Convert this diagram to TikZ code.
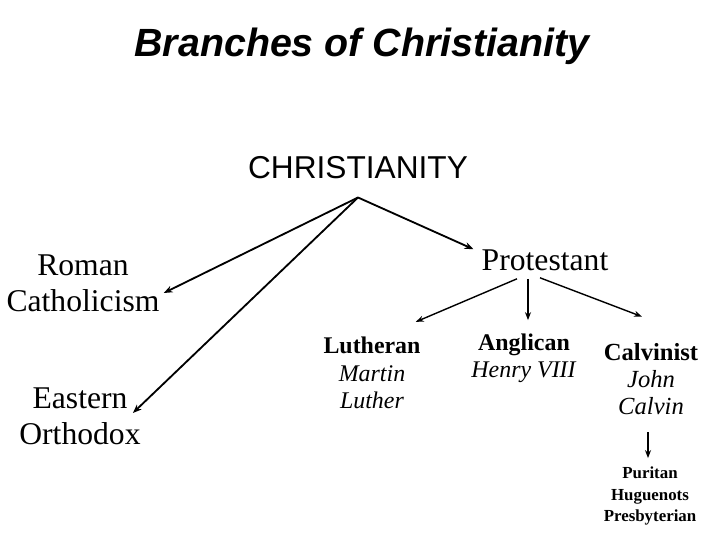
\documentclass[tikz,border=0pt]{standalone}
\usepackage{fontspec}
\setmainfont{Liberation Serif}
\newfontfamily\arialfont{Liberation Sans}
\usetikzlibrary{arrows.meta, calc}

\begin{document}
\begin{tikzpicture}[x=0.025cm, y=-0.025cm,
  branch/.style={-{Stealth[length=2.2mm, width=1.7mm]}, line width=1.3pt},
  twig/.style={-{Stealth[length=2mm, width=1.5mm]}, line width=1pt},
  big/.style={font=\fontsize{22.5}{25.5}\selectfont, align=center, inner sep=0pt},
  church/.style={font=\fontsize{17}{19.5}\selectfont, align=center, inner sep=0pt},
  sect/.style={font=\bfseries\fontsize{12}{15.6}\selectfont, align=center, inner sep=0pt}
]
\useasboundingbox (0,0) rectangle (720,540);

% Title
\node[font=\arialfont\bfseries\itshape\fontsize{28}{32}\selectfont] (title) at (362,46) {Branches of Christianity};

% Root
\node[big, font=\arialfont\fontsize{22.5}{25}\selectfont] (root) at (358,168) {CHRISTIANITY};
\coordinate (apex) at ($(root.south)+(0,18)$);

% First split
\node[big] (rc) at (83,283) {Roman\\Catholicism};
\node[big] (eo) at (80,416) {Eastern\\Orthodox};
\node[big] (pr) at (545,260) {Protestant};

\draw[branch] (apex) -- ($(rc.east)+(4,10)$);
\draw[branch] (apex) -- ($(eo.east)+(-8,-3)$);
\draw[branch] (apex) -- ($(pr.north west)+(-8,0)$);

% Protestant churches
\node[church] (lu) at (372,373) {\textbf{Lutheran}\\\textit{Martin}\\\textit{Luther}};
\node[church] (an) at (524,358) {\textbf{Anglican}\\\textit{Henry VIII}};
\node[church, font=\fontsize{17.5}{19.5}\selectfont] (ca) at (651,379) {\textbf{Calvinist}\\\textit{John}\\\textit{Calvin}};

\draw[twig] ($(pr.south)+(-28,8)$) -- ($(lu.north east)+(-5,-15)$);
\draw[twig] ($(pr.south)+(-17,8)$) -- ($(an.north)+(4,-13)$);
\draw[twig] ($(pr.south)+(-5,7)$) -- ($(ca.north)+(-9,-26)$);

% Calvinist offshoots
\node[sect] (se) at (650,496) {Puritan\\Huguenots\\Presbyterian};
\draw[twig] ($(ca.south)+(-3,17)$) -- ($(se.north)+(-2,-8)$);

\end{tikzpicture}
\end{document}
